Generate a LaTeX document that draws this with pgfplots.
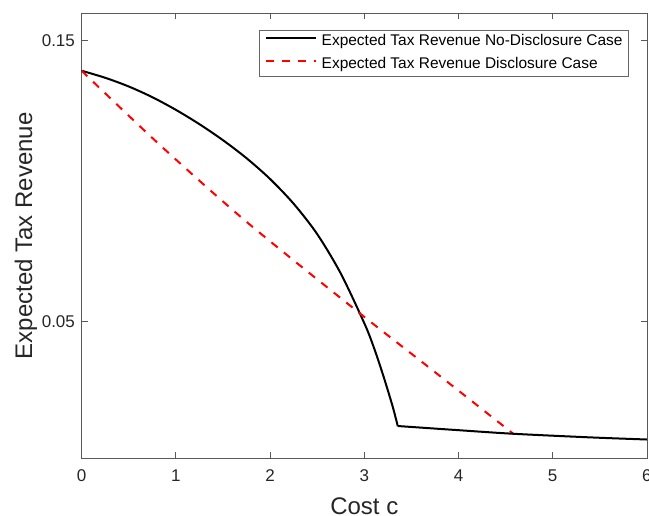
\documentclass[border=0pt]{standalone}
\usepackage{pgfplots}
\pgfplotsset{compat=1.18}
\usepackage{fontspec}
\setmainfont{Liberation Sans}
\definecolor{axgray}{gray}{0.15}
\begin{document}
\begin{tikzpicture}
\begin{axis}[
  scale only axis,
  width=424pt, height=333.7pt,
  xmin=0, xmax=6, ymin=0.0014, ymax=0.1597,
  xtick={0,1,2,3,4,5,6},
  xticklabels={0,1,2,3,4,5,6},
  ytick={0.05,0.15},
  yticklabels={0.05,0.15},
  tick align=inside,
  major tick length=4.5pt,
  axis line style={black!65, line width=0.6pt},
  every tick/.style={black!65, line width=0.6pt},
  xticklabel style={font=\fontsize{12.75}{14}\selectfont, text=axgray, yshift=-5pt},
  yticklabel style={font=\fontsize{12.75}{14}\selectfont, text=axgray, xshift=-1.5pt},
  xlabel={Cost c},
  ylabel={Expected Tax Revenue},
  every axis x label/.style={at={(axis description cs:0.5,-0.108)}, anchor=center, font=\fontsize{18}{20}\selectfont, text=axgray},
  every axis y label/.style={at={(axis description cs:-0.0983,0.5)}, rotate=90, anchor=center, font=\fontsize{18}{20}\selectfont, text=axgray},
  legend style={at={(0.967,0.9627)}, anchor=north east, draw=black!60, line width=0.5pt, fill=white,
    font=\fontsize{11.6}{13}\selectfont, text=black,
    nodes={inner sep=0pt, text height=8.5pt, text depth=2.5pt},
    row sep=6.5pt, column sep=3.5pt, inner xsep=4pt, inner ysep=2.9pt},
  legend cell align=left,
  legend image code/.code={\draw[#1] (0pt,3pt) -- (37.5pt,3pt);},
]
\addplot[black, line width=1.5pt, smooth, tension=0.5] coordinates {
 (0,0.1393) (0.25,0.1368) (0.5,0.1337) (0.75,0.1299) (1,0.1254) (1.25,0.1203)
 (1.5,0.1146) (1.75,0.1082) (2,0.1008) (2.25,0.0920) (2.5,0.0812) (2.75,0.0672)
 (3,0.0495) (3.1,0.0410) (3.2,0.0310) (3.3,0.0200) (3.355,0.0129)
};
\addlegendentry{Expected Tax Revenue No-Disclosure Case}
\addplot[red, line width=1.5pt, dash pattern=on 6pt off 6pt, smooth, tension=0.5] coordinates {
 (0,0.1393) (0.850,0.1123) (1.770,0.0850) (2.945,0.0532) (3.70,0.0334) (4.583,0.0101)
};
\addlegendentry{Expected Tax Revenue Disclosure Case}
\addplot[black, line width=1.5pt, smooth, tension=0.5, forget plot] coordinates {
 (3.355,0.0129) (3.982,0.01146) (4.583,0.01014) (5.396,0.00886) (6,0.0081)
};
\end{axis}
\pgfresetboundingbox
\path (-61.2pt,-42.5pt) rectangle (425.55pt,343.75pt);
\end{tikzpicture}
\end{document}
